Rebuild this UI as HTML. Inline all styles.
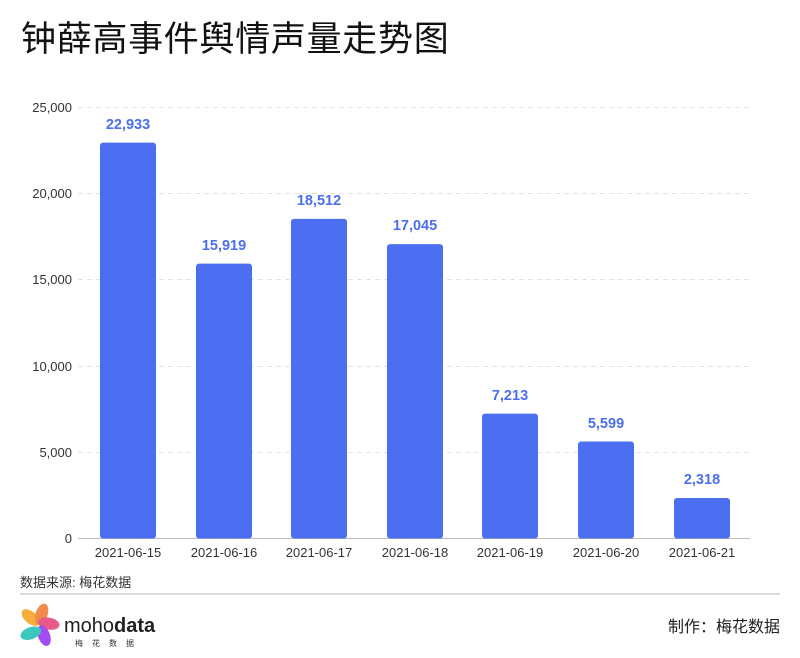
<!DOCTYPE html>
<html><head><meta charset="utf-8"><style>
html,body{margin:0;padding:0;background:#fff;}
svg{display:block;font-family:"Liberation Sans","Noto Sans CJK SC",sans-serif;}
</style></head><body>
<svg width="800" height="658" viewBox="0 0 800 658" xmlns="http://www.w3.org/2000/svg">
<text x="21" y="51" font-size="35" letter-spacing="0.7" fill="#111" font-family="Noto Sans CJK SC, sans-serif">钟薛高事件舆情声量走势图</text>
<g stroke="#e3e3e3" stroke-dasharray="5,4" stroke-width="1">
<line x1="78" y1="107.5" x2="750" y2="107.5"/>
<line x1="78" y1="193.5" x2="750" y2="193.5"/>
<line x1="78" y1="279.5" x2="750" y2="279.5"/>
<line x1="78" y1="366.5" x2="750" y2="366.5"/>
<line x1="78" y1="452.5" x2="750" y2="452.5"/>
</g>
<line x1="78" y1="538.5" x2="750" y2="538.5" stroke="#bbb"/>
<g font-size="13" fill="#333" text-anchor="end">
<text x="72" y="112">25,000</text>
<text x="72" y="198">20,000</text>
<text x="72" y="284">15,000</text>
<text x="72" y="371">10,000</text>
<text x="72" y="457">5,000</text>
<text x="72" y="543">0</text>
</g>
<g fill="#4c6ef0">
<rect x="100" y="142.6" width="56" height="395.9" rx="3"/>
<rect x="196" y="263.6" width="56" height="274.9" rx="3"/>
<rect x="291" y="218.9" width="56" height="319.6" rx="3"/>
<rect x="387" y="244.1" width="56" height="294.4" rx="3"/>
<rect x="482" y="413.6" width="56" height="124.9" rx="3"/>
<rect x="578" y="441.5" width="56" height="97" rx="3"/>
<rect x="674" y="498" width="56" height="40.5" rx="3"/>
</g>
<g font-size="14.5" font-weight="bold" fill="#4c6ef0" text-anchor="middle">
<text x="128" y="129">22,933</text>
<text x="224" y="250">15,919</text>
<text x="319" y="205">18,512</text>
<text x="415" y="230">17,045</text>
<text x="510" y="400">7,213</text>
<text x="606" y="428">5,599</text>
<text x="702" y="484">2,318</text>
</g>
<g font-size="13" fill="#333" text-anchor="middle">
<text x="128" y="557">2021-06-15</text>
<text x="224" y="557">2021-06-16</text>
<text x="319" y="557">2021-06-17</text>
<text x="415" y="557">2021-06-18</text>
<text x="510" y="557">2021-06-19</text>
<text x="606" y="557">2021-06-20</text>
<text x="702" y="557">2021-06-21</text>
</g>
<text x="20" y="587" font-size="13" fill="#333">数据来源: 梅花数据</text>
<line x1="20" y1="594" x2="780" y2="594" stroke="#ddd" stroke-width="2"/>
<g transform="translate(38,626) scale(1.2)">
<ellipse cx="-6" cy="-7" rx="9" ry="5" fill="#f6ad3c" transform="rotate(40 -6 -7)"/>
<ellipse cx="3" cy="-10" rx="5" ry="9" fill="#f28a4b" transform="rotate(20 3 -10)"/>
<ellipse cx="9" cy="-2" rx="9" ry="5" fill="#e85a8a" transform="rotate(10 9 -2)"/>
<ellipse cx="5" cy="8" rx="5" ry="9" fill="#a34cf0" transform="rotate(-20 5 8)"/>
<ellipse cx="-6" cy="6" rx="9" ry="5" fill="#3cc6c0" transform="rotate(-20 -6 6)"/>
</g>
<text x="64" y="632" font-size="20" fill="#222">moho<tspan font-weight="bold">data</tspan></text>
<text x="75" y="646" font-size="8" fill="#333" letter-spacing="9">梅花数据</text>
<text x="780" y="632" font-size="16" fill="#222" text-anchor="end">制作：梅花数据</text>
</svg>
</body></html>
